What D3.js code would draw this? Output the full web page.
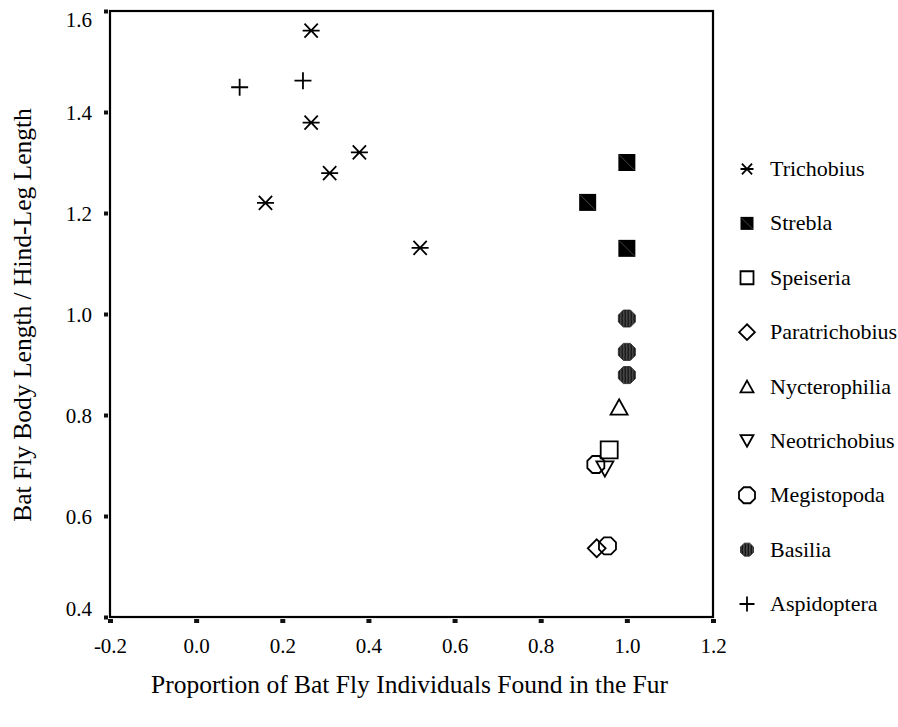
<!DOCTYPE html>
<html>
<head>
<meta charset="utf-8">
<script src="https://cdn.jsdelivr.net/npm/d3@7"></script>
<style>
  html, body { margin: 0; padding: 0; background: #fff; }
  svg { display: block; }
  text { font-family: "Liberation Serif", "Times New Roman", serif; fill: #000; }
</style>
</head>
<body>
<div id="chart"></div>
<script>
// ---- Data ----
const genera = ["Trichobius", "Strebla", "Speiseria", "Paratrichobius", "Nycterophilia",
                "Neotrichobius", "Megistopoda", "Basilia", "Aspidoptera"];
const trichobiusX = [0.267, 0.267, 0.310, 0.379, 0.161, 0.520];
const trichobiusY = [1.561, 1.379, 1.279, 1.320, 1.220, 1.131];
const streblaX = [1.000, 0.909, 1.000];
const streblaY = [1.300, 1.221, 1.130];
const speiseriaX = [0.959];
const speiseriaY = [0.731];
const paratrichobiusX = [0.930];
const paratrichobiusY = [0.536];
const nycterophiliaX = [0.982];
const nycterophiliaY = [0.816];
const neotrichobiusX = [0.949];
const neotrichobiusY = [0.693];
const megistopodaX = [0.928, 0.955];
const megistopodaY = [0.702, 0.541];
const basiliaX = [1.000, 1.000, 1.000];
const basiliaY = [0.991, 0.925, 0.879];
const aspidopteraX = [0.101, 0.248];
const aspidopteraY = [1.449, 1.462];

const xTicks = [-0.2, 0.0, 0.2, 0.4, 0.6, 0.8, 1.0, 1.2];
const xTickLabels = ["-0.2", "0.0", "0.2", "0.4", "0.6", "0.8", "1.0", "1.2"];
const yTicks = [0.4, 0.6, 0.8, 1.0, 1.2, 1.4, 1.6];
const yTickLabels = ["0.4", "0.6", "0.8", "1.0", "1.2", "1.4", "1.6"];
const xTitle = "Proportion of Bat Fly Individuals Found in the Fur";
const yTitle = "Bat Fly Body Length / Hind-Leg Length";

const seriesX = [trichobiusX, streblaX, speiseriaX, paratrichobiusX, nycterophiliaX,
                 neotrichobiusX, megistopodaX, basiliaX, aspidopteraX];
const seriesY = [trichobiusY, streblaY, speiseriaY, paratrichobiusY, nycterophiliaY,
                 neotrichobiusY, megistopodaY, basiliaY, aspidopteraY];
const markerTypes = ["asterisk", "filledSquare", "square", "diamond", "triangleUp",
                     "triangleDown", "octagon", "hatchedOctagon", "plus"];

// ---- Layout ----
const W = 898, H = 727;
const plot = { left: 110, right: 713, top: 11, bottom: 617 };

const svg = d3.select("#chart").append("svg")
  .attr("width", W).attr("height", H)
  .attr("viewBox", `0 0 ${W} ${H}`);
svg.append("rect").attr("width", W).attr("height", H).attr("fill", "#fff");

const defs = svg.append("defs");
const pat = defs.append("pattern")
  .attr("id", "hatch").attr("patternUnits", "userSpaceOnUse")
  .attr("width", 3).attr("height", 6);
pat.append("rect").attr("width", 3).attr("height", 6).attr("fill", "#4a4a4a");
pat.append("path").attr("d", "M1,0 L1.6,3 L1,6").attr("stroke", "#111")
  .attr("stroke-width", 1.3).attr("fill", "none");

const x = d3.scaleLinear().domain([-0.2, 1.2]).range([plot.left, plot.right]);
const y = d3.scaleLinear().domain([0.4, 1.6]).range([plot.bottom, plot.top]);

// ---- Marker shapes ----
function markerPath(type, s) {
  const r = s / 2;
  switch (type) {
    case "asterisk": {
      const dx = r * 0.78, dy = r * 0.82;
      return `M${-r},0L${r},0M${-dx},${-dy}L${dx},${dy}M${-dx},${dy}L${dx},${-dy}`;
    }
    case "plus":
      return `M${-r},0L${r},0M0,${-r}L0,${r}`;
    case "square":
    case "filledSquare":
      return `M${-r},${-r}L${r},${-r}L${r},${r}L${-r},${r}Z`;
    case "diamond": {
      const d = r * 1.05;
      return `M0,${-d}L${d},0L0,${d}L${-d},0Z`;
    }
    case "triangleUp": {
      const h = s * 0.9;
      return `M0,${-h / 2}L${r},${h / 2}L${-r},${h / 2}Z`;
    }
    case "triangleDown": {
      const h = s * 0.9;
      return `M0,${h / 2}L${r},${-h / 2}L${-r},${-h / 2}Z`;
    }
    case "octagon":
    case "hatchedOctagon": {
      const R = r / Math.cos(Math.PI / 8);
      const pts = d3.range(8).map(k => {
        const a = Math.PI / 8 + k * Math.PI / 4;
        return [R * Math.cos(a), R * Math.sin(a)];
      });
      return "M" + pts.map(p => p.join(",")).join("L") + "Z";
    }
  }
}

function drawMarker(g, type, s) {
  const p = g.append("path").attr("d", markerPath(type, s));
  if (type === "filledSquare") {
    p.attr("fill", "#000").attr("stroke", "none");
    const r = s / 2;
    g.append("path").attr("d", `M${-r + 1},${-r + 1}L${r - 1},${r - 1}`)
      .attr("stroke", "#555").attr("stroke-width", 0.8);
  } else if (type === "hatchedOctagon") {
    p.attr("fill", "url(#hatch)").attr("stroke", "#222").attr("stroke-width", 0.8);
  } else if (type === "asterisk" || type === "plus") {
    p.attr("fill", "none").attr("stroke", "#000").attr("stroke-width", 1.8);
  } else {
    p.attr("fill", "none").attr("stroke", "#000").attr("stroke-width", 1.8);
  }
}

// ---- Frame ----
svg.append("rect")
  .attr("x", plot.left).attr("y", plot.top)
  .attr("width", plot.right - plot.left).attr("height", plot.bottom - plot.top)
  .attr("fill", "none").attr("stroke", "#000").attr("stroke-width", 2.2);

// ---- Axes ----
const xAxis = d3.axisBottom(x).tickValues(xTicks)
  .tickFormat((d, i) => xTickLabels[i]).tickSize(0).tickPadding(0);
const gx = svg.append("g").attr("transform", `translate(0,${plot.bottom})`).call(xAxis);
gx.select(".domain").remove();
gx.selectAll(".tick text")
  .attr("y", 36).attr("dy", 0)
  .style("font-size", "21px")
  .style("font-family", '"Liberation Serif", "Times New Roman", serif');
gx.selectAll(".tick").append("rect")
  .attr("x", -2.5).attr("y", 2).attr("width", 5).attr("height", 4).attr("fill", "#111");

const yAxis = d3.axisLeft(y).tickValues(yTicks)
  .tickFormat((d, i) => yTickLabels[i]).tickSize(0).tickPadding(0);
const gy = svg.append("g").attr("transform", `translate(${plot.left},0)`).call(yAxis);
gy.select(".domain").remove();
gy.selectAll(".tick text")
  .attr("x", -18).attr("dy", 0)
  .attr("y", d => {
    const c = y(d) + 7;
    return Math.max(plot.top + 15, Math.min(plot.bottom - 2, c)) - y(d);
  })
  .style("font-size", "21px")
  .style("font-family", '"Liberation Serif", "Times New Roman", serif');
gy.selectAll(".tick").append("rect")
  .attr("x", -6).attr("y", -2).attr("width", 4).attr("height", 4).attr("fill", "#111");

// ---- Titles ----
svg.append("text")
  .attr("x", (plot.left + plot.right) / 2 - 2).attr("y", 693)
  .attr("text-anchor", "middle")
  .style("font-size", "25.5px")
  .text(xTitle);

svg.append("text")
  .attr("transform", `translate(31,${(plot.top + plot.bottom) / 2 + 1}) rotate(-90)`)
  .attr("text-anchor", "middle")
  .style("font-size", "25.5px")
  .text(yTitle);

// ---- Points ----
const points = svg.append("g");
seriesX.forEach((xs, si) => {
  xs.forEach((xv, j) => {
    const g = points.append("g")
      .attr("transform", `translate(${x(xv)},${y(seriesY[si][j])})`);
    drawMarker(g, markerTypes[si], 17);
  });
});

// ---- Legend ----
const legendY = d3.scaleLinear().domain([0, genera.length - 1]).range([169, 604]);
const legend = svg.append("g");
genera.forEach((name, i) => {
  const g = legend.append("g").attr("transform", `translate(747,${legendY(i)})`);
  const s = (markerTypes[i] === "plus" || markerTypes[i] === "diamond") ? 15
          : (markerTypes[i] === "octagon") ? 16 : 13;
  drawMarker(g, markerTypes[i], s);
  g.append("text").attr("x", 23).attr("y", 7)
    .style("font-size", "22px")
    .text(name);
});
</script>
</body>
</html>
